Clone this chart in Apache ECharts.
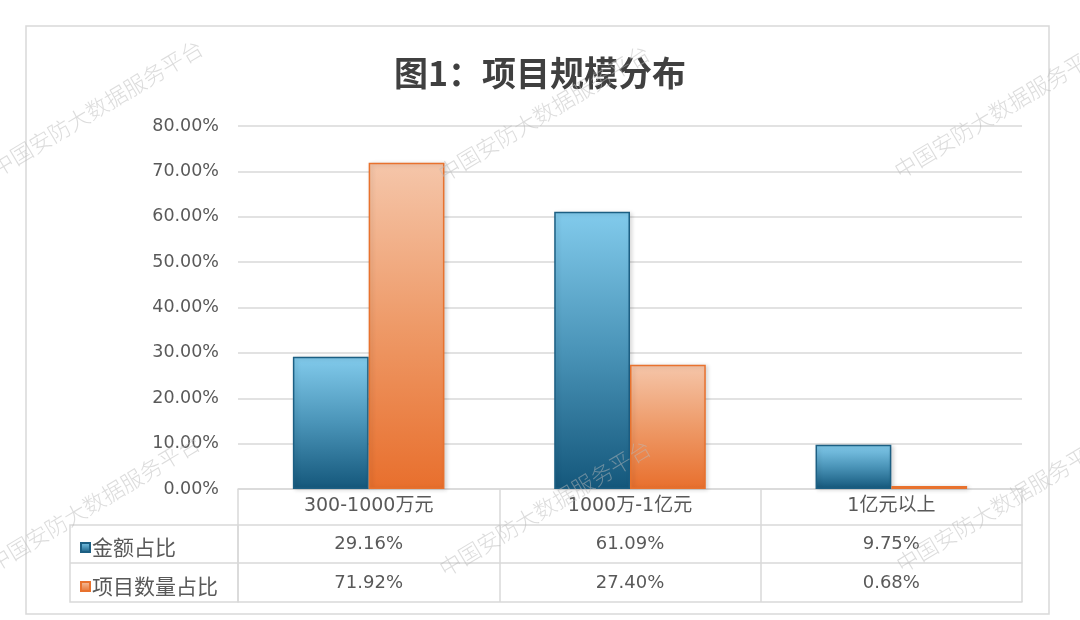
<!DOCTYPE html>
<html>
<head>
<meta charset="utf-8">
<script src="https://cdn.jsdelivr.net/npm/echarts@6/dist/echarts.min.js"></script>
<style>
html,body{margin:0;padding:0;background:#fff;}
#chart{width:1080px;height:620px;}
</style>
</head>
<body>
<div id="chart"></div>
<script>
const categories = ['300-1000万元', '1000万-1亿元', '1亿元以上'];
const seriesNames = ['金额占比', '项目数量占比'];
const amountShare = [29.16, 61.09, 9.75];
const countShare = [71.92, 27.40, 0.68];
const titleText = '图1：项目规模分布';
const watermarkText = '中国安防大数据服务平台';

const FONT = '"DejaVu Sans", "Noto Sans CJK SC", sans-serif';
const CJK = '"Noto Sans CJK SC", sans-serif';
const TXT = '#595959';
const LINE = '#d9d9d9';

const blueGrad = new echarts.graphic.LinearGradient(0, 0, 0, 1, [
  {offset: 0, color: '#82cbec'},
  {offset: 0.5, color: '#4a94b8'},
  {offset: 1, color: '#14577b'}
]);
const orangeGrad = new echarts.graphic.LinearGradient(0, 0, 0, 1, [
  {offset: 0, color: '#f5c6aa'},
  {offset: 0.5, color: '#ee9a68'},
  {offset: 1, color: '#e86f2d'}
]);

const chart = echarts.init(document.getElementById('chart'), null, {renderer: 'canvas'});

const fmt = v => Number(v).toFixed(2) + '%';

function valueAxis(offset, values, margin) {
  return {
    type: 'category',
    data: categories,
    position: 'bottom',
    offset: offset,
    axisLine: {show: true, lineStyle: {color: LINE, width: 1.5}},
    axisTick: {show: false},
    axisLabel: values ? {
      show: true, margin: margin, fontSize: 18, color: TXT, fontFamily: FONT,
      formatter: (v, i) => fmt(values[i])
    } : {show: false},
    splitLine: {show: false}
  };
}

const watermarks = [];
[[97, 108], [544, 113], [1000, 110], [94, 503], [545, 508], [1002, 504]].forEach(p => {
  watermarks.push({
    type: 'text', x: p[0], y: p[1], rotation: 0.54, z: 100, silent: true,
    style: {text: watermarkText, fontSize: 22, fontFamily: CJK, fontWeight: 300, fill: 'rgba(185,185,185,0.5)',
      textAlign: 'center', textVerticalAlign: 'middle'}
  });
});

const option = {
  backgroundColor: '#ffffff',
  animation: false,
  title: {
    text: titleText, left: 'center', top: 51,
    textStyle: {fontSize: 34, fontWeight: 'bold', color: '#404040', fontFamily: CJK}
  },
  legend: [
    {data: [seriesNames[0]], left: 75, top: 532, orient: 'vertical', itemWidth: 9, itemHeight: 9, itemGap: 0,
      icon: 'rect', textStyle: {fontSize: 21, color: TXT, fontFamily: CJK, padding: [0, 0, 0, -3]}},
    {data: [seriesNames[1]], left: 75, top: 571, orient: 'vertical', itemWidth: 9, itemHeight: 9, itemGap: 0,
      icon: 'rect', textStyle: {fontSize: 21, color: TXT, fontFamily: CJK, padding: [0, 0, 0, -3]}}
  ],
  grid: {left: 238, right: 58, top: 126, bottom: 131, containLabel: false},
  xAxis: [
    {
      type: 'category', data: categories, position: 'bottom',
      axisLine: {show: true, lineStyle: {color: LINE, width: 1.5}},
      axisTick: {show: true, length: 113, lineStyle: {color: LINE, width: 1.5}},
      axisLabel: {margin: 8, fontSize: 19, color: TXT, fontFamily: FONT},
      splitLine: {show: false}
    },
    valueAxis(36, amountShare, 10),
    valueAxis(74, countShare, 11),
    valueAxis(113, null, 0)
  ],
  yAxis: {
    type: 'value', min: 0, max: 80, interval: 10,
    axisLine: {show: false}, axisTick: {show: false},
    axisLabel: {margin: 19, fontSize: 17.5, color: TXT, fontFamily: FONT, formatter: v => fmt(v)},
    splitLine: {lineStyle: {color: LINE, width: 1.5}}
  },
  series: [
    {
      name: seriesNames[0], type: 'bar', data: amountShare, xAxisIndex: 0,
      barGap: '0%', barCategoryGap: '42%',
      itemStyle: {color: blueGrad, borderColor: '#1c5f83', borderWidth: 1.5,
        shadowColor: 'rgba(0,0,0,0.15)', shadowBlur: 4, shadowOffsetX: 2, shadowOffsetY: 1}
    },
    {
      name: seriesNames[1], type: 'bar', data: countShare, xAxisIndex: 0,
      barGap: '0%', barCategoryGap: '42%',
      itemStyle: {color: orangeGrad, borderColor: '#e8722e', borderWidth: 1.5,
        shadowColor: 'rgba(0,0,0,0.15)', shadowBlur: 4, shadowOffsetX: 2, shadowOffsetY: 1}
    }
  ],
  graphic: [
    {type: 'rect', shape: {x: 26, y: 26, width: 1023, height: 588}, z: -1, silent: true,
      style: {fill: 'none', stroke: LINE, lineWidth: 1.5}},
    {type: 'rect', shape: {x: 70, y: 525, width: 168, height: 77}, silent: true,
      style: {fill: 'none', stroke: LINE, lineWidth: 1.5}},
    {type: 'line', shape: {x1: 70, y1: 563, x2: 238, y2: 563}, silent: true,
      style: {stroke: LINE, lineWidth: 1.5}}
  ].concat(watermarks)
};

chart.setOption(option);
</script>
</body>
</html>
